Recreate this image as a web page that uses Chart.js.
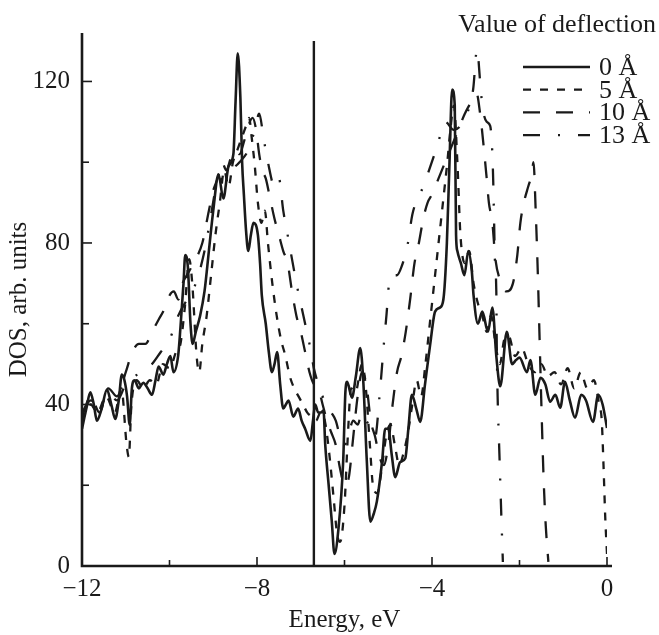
<!DOCTYPE html>
<html>
<head>
<meta charset="utf-8">
<script src="https://cdn.jsdelivr.net/npm/chart.js@4.4.0/dist/chart.umd.min.js"></script>
<style>
  html, body { margin: 0; padding: 0; background: #fff; }
</style>
</head>
<body>
<canvas id="dos" width="659" height="635"></canvas>
<script>
// energy (eV) and DOS values, one pair of arrays per deflection
const energy0 = [-12, -11.9, -11.81, -11.73, -11.66, -11.55, -11.43, -11.33, -11.24, -11.16,
  -11.09, -11.03, -10.97, -10.91, -10.86, -10.8, -10.7, -10.6, -10.5, -10.4,
  -10.32, -10.25, -10.14, -10.06, -9.98, -9.91, -9.8, -9.75, -9.68, -9.64,
  -9.58, -9.52, -9.47, -9.4, -9.3, -9.2, -9.1, -9.0, -8.88, -8.77,
  -8.65, -8.54, -8.49, -8.44, -8.38, -8.34, -8.3, -8.25, -8.2, -8.14,
  -8.08, -7.98, -7.93, -7.89, -7.8, -7.73, -7.66, -7.6, -7.54, -7.47,
  -7.4, -7.34, -7.28, -7.17, -7.06, -6.98, -6.9, -6.78, -6.72, -6.67,
  -6.6, -6.54, -6.48, -6.44, -6.37, -6.29, -6.23, -6.14, -6.03, -5.98,
  -5.94, -5.83, -5.74, -5.64, -5.57, -5.49, -5.41, -5.33, -5.26, -5.14,
  -5.07, -5.0, -4.92, -4.84, -4.73, -4.61, -4.54, -4.46, -4.36, -4.27,
  -4.16, -4.04, -3.93, -3.82, -3.74, -3.66, -3.6, -3.54, -3.48, -3.45,
  -3.42, -3.34, -3.26, -3.17, -3.09, -3.05, -2.95, -2.85, -2.72, -2.62,
  -2.53, -2.44, -2.29, -2.17, -2.08, -2.0, -1.83, -1.75, -1.64, -1.52,
  -1.41, -1.3, -1.18, -1.07, -0.96, -0.85, -0.73, -0.59, -0.48, -0.32,
  -0.2, -0.1, 0];
const dos0 = [34, 39, 43, 40, 36, 39, 43.7, 40, 36.4, 41,
  47.4, 46, 42, 35, 44, 46, 44, 45.4, 44, 42.4,
  46, 49.4, 47.4, 50, 52, 48, 52.3, 59, 70, 77,
  74, 60, 55, 58, 62, 68, 78, 88, 97, 91,
  99, 102, 115, 127, 116, 100, 92, 83, 78, 82,
  85, 82, 75, 67, 60, 53, 48, 50, 53, 45,
  39, 40, 41, 37, 39, 36, 34, 31, 36, 40,
  38, 38, 38.5, 30, 21, 11, 3, 9, 26, 43,
  45.6, 41.7, 47, 54, 45.6, 26, 11, 13, 16, 26,
  34, 34, 27.5, 22, 25.7, 26.7, 34, 42.4, 39, 35.7,
  45, 55, 63, 64, 66, 80, 100, 118, 114, 82,
  78, 75, 72, 78, 73, 67, 60, 63, 58, 64,
  52, 44.5, 58, 50, 51, 51.6, 48, 51, 42.4, 46.6,
  45, 40.7, 42.4, 39.2, 45.6, 41, 36.7, 42.4, 41, 35.7,
  42.4, 40, 34.2];

const energy5 = [-12, -11.8, -11.65, -11.45, -11.25, -11.1, -10.98, -10.93, -10.87, -10.75,
  -10.6, -10.45, -10.3, -10.15, -10.0, -9.85, -9.75, -9.65, -9.55, -9.48,
  -9.38, -9.32, -9.25, -9.15, -9.05, -8.95, -8.85, -8.75, -8.65, -8.55,
  -8.45, -8.35, -8.25, -8.18, -8.12, -8.05, -7.98, -7.9, -7.82, -7.75,
  -7.65, -7.55, -7.45, -7.35, -7.25, -7.15, -7.05, -6.95, -6.85, -6.75,
  -6.65, -6.55, -6.45, -6.35, -6.25, -6.17, -6.1, -6.0, -5.92, -5.85,
  -5.75, -5.6, -5.52, -5.42, -5.35, -5.25, -5.15, -5.05, -4.95, -4.85,
  -4.75, -4.65, -4.55, -4.45, -4.35, -4.25, -4.15, -4.05, -3.95, -3.85,
  -3.75, -3.65, -3.58, -3.5, -3.42, -3.35, -3.25, -3.15, -3.05, -2.95,
  -2.85, -2.75, -2.65, -2.55, -2.45, -2.35, -2.25, -2.1, -1.95, -1.8,
  -1.65, -1.5, -1.35, -1.2, -1.05, -0.9, -0.75, -0.6, -0.45, -0.3,
  -0.18, -0.12, -0.08, -0.04, 0];
const dos5 = [36, 40, 38, 42, 38, 44, 30, 27, 40, 46,
  44, 46, 45, 50, 49, 53, 55, 64, 76, 70,
  52, 48, 55, 62, 72, 82, 90, 98, 94, 100,
  103, 106, 109, 111, 106, 99, 90, 85, 88, 80,
  70, 62, 56, 52, 47, 44, 42, 40, 38, 37,
  36, 38, 36, 28, 17, 8, 6, 15, 33, 44,
  43, 50, 45, 30, 20, 18, 24, 32, 35, 30,
  25, 28, 33, 40, 46, 42, 50, 60, 70, 80,
  90, 100, 108, 114, 100, 82, 75, 78, 70, 65,
  62, 58, 62, 55, 50, 56, 57, 52, 54, 50,
  48, 50, 47, 48, 45, 49, 44, 48, 44, 46,
  40, 36, 25, 12, 3];

const energy10 = [-12, -11.8, -11.6, -11.4, -11.2, -11.0, -10.85, -10.7, -10.55, -10.4,
  -10.25, -10.1, -10.0, -9.9, -9.8, -9.7, -9.55, -9.4, -9.25, -9.1,
  -9.0, -8.9, -8.8, -8.7, -8.6, -8.5, -8.4, -8.3, -8.2, -8.1,
  -8.02, -7.95, -7.88, -7.8, -7.7, -7.6, -7.5, -7.4, -7.3, -7.2,
  -7.1, -7.0, -6.9, -6.8, -6.7, -6.6, -6.5, -6.4, -6.3, -6.2,
  -6.1, -6.0, -5.9, -5.8, -5.7, -5.6, -5.5, -5.4, -5.3, -5.2,
  -5.1, -5.0, -4.9, -4.8, -4.7, -4.6, -4.5, -4.4, -4.3, -4.2,
  -4.1, -4.0, -3.85, -3.7, -3.55, -3.4, -3.25, -3.1, -2.98, -2.9,
  -2.82, -2.75, -2.7, -2.62, -2.55, -2.45, -2.3, -2.15, -2.05, -1.98,
  -1.9, -1.8, -1.72, -1.68, -1.63, -1.58, -1.55, -1.5, -1.45, -1.4,
  -1.34];
const dos10 = [37, 42, 38, 44, 42, 48, 53, 55, 55, 58,
  61, 64, 67, 68, 66, 70, 73, 76, 80, 88,
  93, 96, 100, 98, 101, 103, 102, 105, 109, 111,
  108, 102, 98, 96, 91, 86, 82, 78, 75, 68,
  62, 58, 53, 48, 45, 44, 40, 36, 33, 30,
  24, 20, 22, 32, 42, 48, 45, 36, 32, 27,
  25, 30, 40, 48, 52, 58, 66, 75, 80, 86,
  90, 92, 96, 100, 104, 108, 112, 115, 117, 112,
  104, 96, 90, 85, 76, 71, 68, 70, 77, 85,
  90, 94, 97, 100, 88, 72, 60, 40, 22, 10,
  1];

const energy13 = [-12, -11.8, -11.6, -11.4, -11.2, -11.0, -10.8, -10.6, -10.4, -10.2,
  -10.0, -9.8, -9.6, -9.4, -9.2, -9.05, -8.95, -8.8, -8.6, -8.4,
  -8.2, -8.05, -7.95, -7.85, -7.75, -7.6, -7.5, -7.4, -7.3, -7.2,
  -7.08, -6.98, -6.9, -6.8, -6.7, -6.6, -6.5, -6.4, -6.3, -6.2,
  -6.1, -6.0, -5.9, -5.8, -5.7, -5.6, -5.5, -5.4, -5.3, -5.2,
  -5.1, -5.05, -4.95, -4.8, -4.7, -4.55, -4.45, -4.2, -3.88, -3.7,
  -3.5, -3.35, -3.2, -3.06, -2.97, -2.9, -2.85, -2.75, -2.67, -2.62,
  -2.6, -2.58, -2.56, -2.53, -2.52, -2.5, -2.46, -2.42, -2.38];
const dos13 = [38, 41, 39, 43, 41, 45, 47, 48, 50, 53,
  56, 62, 66, 70, 78, 87, 93, 96, 98, 100,
  103, 108, 112, 106, 100, 94, 96, 88, 82, 76,
  69, 64, 60, 55, 49, 45, 42, 40, 38, 36,
  32, 30, 33, 36, 35, 38, 36, 34, 32, 42,
  55, 61, 72, 72, 74, 80, 87, 94, 104, 110,
  108, 109, 112, 118, 128, 120, 114, 110, 109, 102,
  95, 85, 75, 68, 55, 42, 28, 14, 1];

// vertical solid line at -6.7 eV
const markerEnergy = [-6.7, -6.7];
const markerDos = [0, 130];

const seriesLabels = ['0 Å', '5 Å', '10 Å', '13 Å'];
const legendTitle = 'Value of deflection';
const xTicks = [-12, -8, -4, 0];
const xTickLabels = ['\u221212', '\u22128', '\u22124', '0'];
const xMinor = [-10, -6, -2];
const yTicks = [0, 40, 80, 120];
const yMinor = [20, 60, 100];

const ink = '#1a1a1a';
const serif = '"Liberation Serif", "DejaVu Serif", serif';

function pts(xs, ys) {
  return xs.map((x, i) => ({ x: x, y: ys[i] }));
}

function lineSet(label, xs, ys, dash, width) {
  return {
    label: label,
    data: pts(xs, ys),
    borderColor: ink,
    borderWidth: width,
    borderDash: dash,
    pointRadius: 0,
    fill: false,
    cubicInterpolationMode: 'monotone'
  };
}

// axis lines plus inward major/minor ticks
const axisFrame = {
  id: 'axisFrame',
  afterDraw(chart) {
    const { ctx, chartArea: a, scales: { x, y } } = chart;
    ctx.save();
    ctx.strokeStyle = ink;
    ctx.setLineDash([]);
    ctx.lineWidth = 2.6;
    ctx.beginPath();
    ctx.moveTo(a.left, a.top);
    ctx.lineTo(a.left, a.bottom);
    ctx.lineTo(a.right + 5, a.bottom);
    ctx.stroke();

    ctx.lineWidth = 1.6;
    const mark = (x1, y1, x2, y2) => {
      ctx.beginPath();
      ctx.moveTo(x1, y1);
      ctx.lineTo(x2, y2);
      ctx.stroke();
    };
    xTicks.forEach(v => { const p = x.getPixelForValue(v); mark(p, a.bottom, p, a.bottom - 9); });
    xMinor.forEach(v => { const p = x.getPixelForValue(v); mark(p, a.bottom, p, a.bottom - 6); });
    yTicks.forEach(v => { const p = y.getPixelForValue(v); mark(a.left, p, a.left + 10, p); });
    yMinor.forEach(v => { const p = y.getPixelForValue(v); mark(a.left, p, a.left + 7, p); });
    ctx.restore();
  }
};

// legend block in the upper right corner
const deflectionLegend = {
  id: 'deflectionLegend',
  afterDraw(chart) {
    const ctx = chart.ctx;
    ctx.save();
    ctx.fillStyle = ink;
    ctx.strokeStyle = ink;
    ctx.font = '26px ' + serif;
    ctx.textAlign = 'right';
    ctx.textBaseline = 'alphabetic';
    ctx.fillText(legendTitle, 656, 32);

    let row = 0;
    chart.data.datasets.forEach(ds => {
      if (!ds.label) return;
      const yy = 67 + row * 22.7;
      ctx.setLineDash(ds.borderDash || []);
      ctx.lineWidth = ds.borderWidth;
      ctx.beginPath();
      ctx.moveTo(523, yy);
      ctx.lineTo(590, yy);
      ctx.stroke();
      ctx.setLineDash([]);
      ctx.font = '26px ' + serif;
      ctx.textAlign = 'left';
      ctx.textBaseline = 'middle';
      ctx.fillText(ds.label, 599, yy + 1);
      row++;
    });
    ctx.restore();
  }
};

new Chart(document.getElementById('dos'), {
  type: 'line',
  data: {
    datasets: [
      lineSet(seriesLabels[0], energy0, dos0, [], 2.6),
      lineSet(seriesLabels[1], energy5, dos5, [8, 9], 2.3),
      lineSet(seriesLabels[2], energy10, dos10, [17, 16], 2.3),
      lineSet(seriesLabels[3], energy13, dos13, [17, 18, 2, 18], 2.3),
      lineSet('', markerEnergy, markerDos, [], 2.4)
    ]
  },
  options: {
    responsive: false,
    animation: false,
    layout: { padding: { top: 33, right: 52, left: 0, bottom: 0 } },
    plugins: {
      legend: { display: false },
      tooltip: { enabled: false }
    },
    scales: {
      x: {
        type: 'linear',
        min: -12,
        max: 0,
        grid: { display: false, drawTicks: false },
        border: { display: false },
        afterBuildTicks: s => { s.ticks = xTicks.map(v => ({ value: v })); },
        afterFit: s => { s.height = 69; },
        ticks: {
          color: ink,
          padding: 8,
          maxRotation: 0,
          font: { family: serif, size: 25, lineHeight: 1.2 },
          callback: (v, i) => xTickLabels[i]
        },
        title: {
          display: true,
          text: 'Energy, eV',
          color: ink,
          padding: { top: 0, bottom: 0 },
          font: { family: serif, size: 25, lineHeight: 1.2 }
        }
      },
      y: {
        min: 0,
        max: 132,
        grid: { display: false, drawTicks: false },
        border: { display: false },
        afterBuildTicks: s => { s.ticks = yTicks.map(v => ({ value: v })); },
        afterFit: s => { s.width = 82; },
        ticks: {
          color: ink,
          padding: 12,
          font: { family: serif, size: 25, lineHeight: 1.2 }
        },
        title: {
          display: true,
          text: 'DOS, arb. units',
          color: ink,
          padding: { top: 4, bottom: 0 },
          font: { family: serif, size: 25, lineHeight: 1.2 }
        }
      }
    }
  },
  plugins: [axisFrame, deflectionLegend]
});
</script>
</body>
</html>
